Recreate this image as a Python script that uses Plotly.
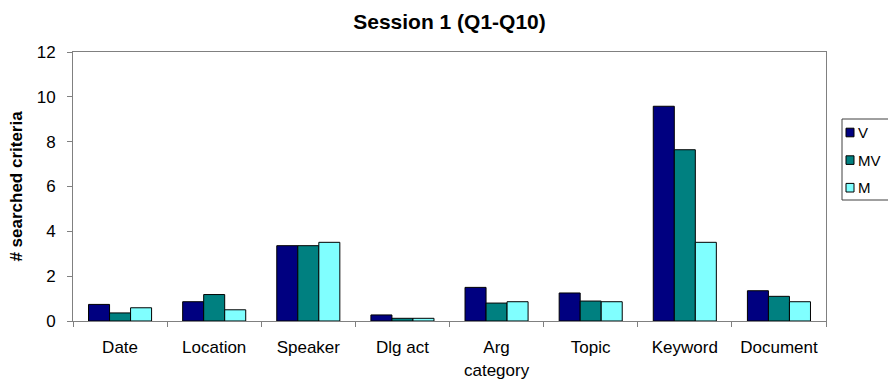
import plotly.graph_objects as go

# Searched criteria per category, Session 1 (Q1-Q10)
categories = ["Date", "Location", "Speaker", "Dlg act", "Arg<br>category",
              "Topic", "Keyword", "Document"]
series_names = ["V", "MV", "M"]
v_values = [0.74, 0.86, 3.36, 0.27, 1.50, 1.25, 9.58, 1.35]
mv_values = [0.36, 1.18, 3.36, 0.12, 0.80, 0.89, 7.64, 1.10]
m_values = [0.59, 0.50, 3.51, 0.12, 0.86, 0.86, 3.51, 0.86]
y_ticks = [0, 2, 4, 6, 8, 10, 12]

colors = ["#000080", "#008080", "#80FFFF"]
series_values = [v_values, mv_values, m_values]

W, H = 888, 380
L, R, T, B = 73, 62, 52, 59
FONT = "Liberation Sans, Arial, sans-serif"
AXIS_GREY = "#808080"


def px_x(p):
    return (p - L) / (W - L - R)


def px_y(p):
    return (H - B - p) / (H - T - B)


fig = go.Figure()
for name, vals, col in zip(series_names, series_values, colors):
    fig.add_trace(go.Bar(
        x=categories, y=vals, name=name,
        marker=dict(color=col, line=dict(color="#000000", width=1)),
        showlegend=False,
    ))

# Legend box drawn on the right edge of the canvas
shapes = [dict(type="rect", xref="paper", yref="paper",
               x0=px_x(842), x1=px_x(920), y0=px_y(200), y1=px_y(119),
               line=dict(color="#404040", width=1), fillcolor="#ffffff",
               layer="above")]
annotations = []
for i, (name, col) in enumerate(zip(series_names, colors)):
    cy = 132.5 + i * 27.6
    shapes.append(dict(type="rect", xref="paper", yref="paper",
                       x0=px_x(846), x1=px_x(854),
                       y0=px_y(cy + 4.3), y1=px_y(cy - 4.3),
                       line=dict(color="#000000", width=1), fillcolor=col,
                       layer="above"))
    annotations.append(dict(xref="paper", yref="paper", x=px_x(855.5),
                            y=px_y(cy), xanchor="left", yanchor="middle",
                            text=name, showarrow=False,
                            font=dict(family=FONT, size=15, color="#000000")))

fig.update_layout(
    width=W, height=H,
    margin=dict(l=L, r=R, t=T, b=B, autoexpand=False),
    paper_bgcolor="#ffffff", plot_bgcolor="#ffffff",
    barmode="group", bargap=0.33, bargroupgap=0,
    font=dict(family=FONT, size=17, color="#000000"),
    title=dict(text="<b>Session 1 (Q1-Q10)</b>", x=0.5, xref="paper",
               y=1 - 22 / H, yref="container", yanchor="middle",
               xanchor="center",
               font=dict(family=FONT, size=21, color="#000000")),
    xaxis=dict(showline=True, linecolor=AXIS_GREY, linewidth=1, mirror=True,
               ticks="outside", tickson="boundaries", ticklen=5,
               tickcolor=AXIS_GREY, showgrid=False, ticklabelstandoff=11,
               tickfont=dict(family=FONT, size=17, color="#000000")),
    yaxis=dict(range=[0, 12], tickvals=y_ticks, showline=True,
               linecolor=AXIS_GREY, linewidth=1, mirror=True,
               ticks="outside", ticklen=5, tickcolor=AXIS_GREY,
               showgrid=False, zeroline=False, ticklabelstandoff=8,
               tickfont=dict(family=FONT, size=17, color="#000000"),
               title=dict(text="<b># searched criteria</b>", standoff=9,
                          font=dict(family=FONT, size=17, color="#000000"))),
    shapes=shapes,
    annotations=annotations,
)

fig.write_html("out.html")
